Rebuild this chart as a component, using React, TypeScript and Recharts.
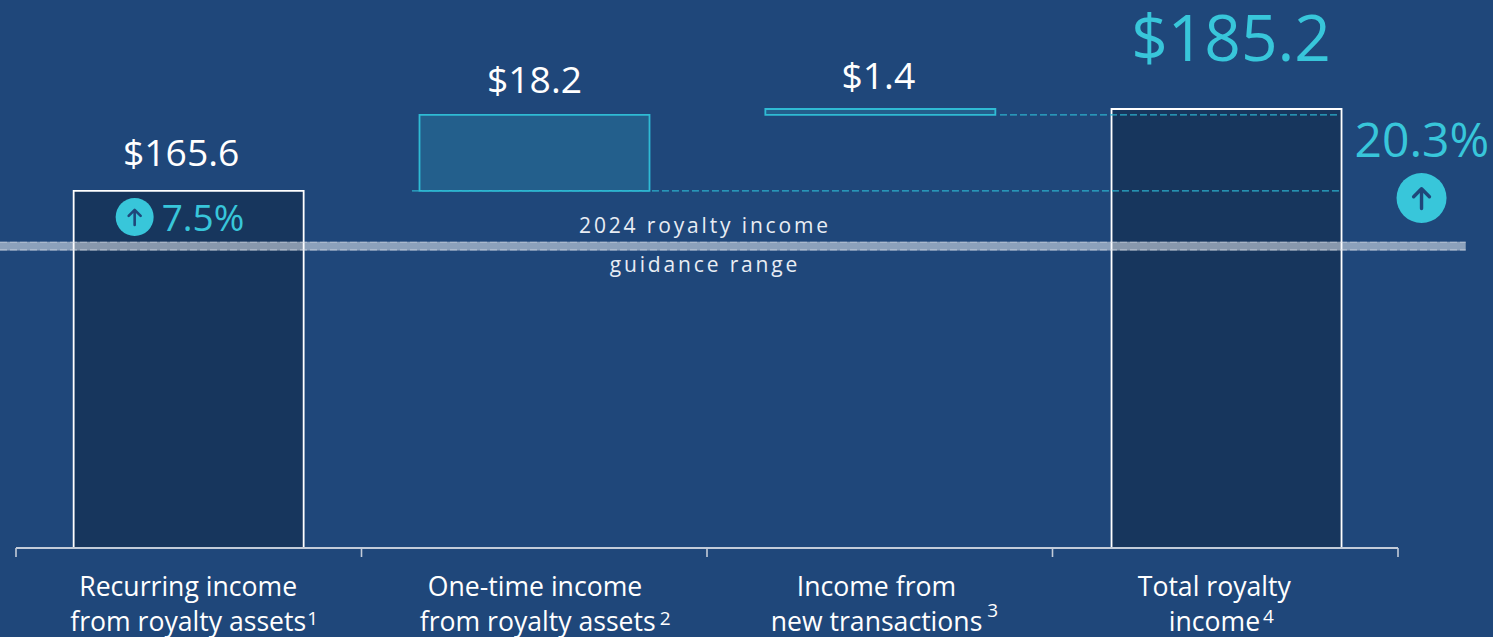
import React from "react";
import { BarChart, Bar, XAxis, YAxis, Cell, LabelList, ReferenceArea, ReferenceLine } from "recharts";

// Royalty income bridge, in $ millions
const categories = ["Recurring income", "One-time income", "Income from", "Total royalty"];
const secondLines = ["from royalty assets", "from royalty assets", "new transactions", "income"];
const footnotes = ["1", "2", "3", "4"];
const amounts = [165.6, 18.2, 1.4, 185.2];
const growthPct: (number | null)[] = [7.5, null, null, 20.3];
const AXIS_FLOOR = 80.2;
const barStarts = [AXIS_FLOOR, 165.6, 183.8, AXIS_FLOOR];
const barSlots = [0.4995, 1.5005, 2.5015, 3.5035];
const guidanceLow = 151.35;
const guidanceHigh = 153.46;
const connectorLevels = [183.8, 165.6];

const BG = "#1F477A";
const TEAL = "#38C6DA";
const FONT = "'Open Sans', sans-serif";

const barFills = ["#17365D", "#235F8C", "#235F8C", "#17365D"];
const barStrokes = ["#FFFFFF", "#2FBBD4", "#2FBBD4", "#FFFFFF"];

const rows = categories.map((name, i) => ({
  name,
  slot: barSlots[i],
  range: [barStarts[i], barStarts[i] + (i === 0 || i === 3 ? amounts[i] - AXIS_FLOOR : amounts[i])],
  amount: amounts[i],
  growth: growthPct[i],
}));

// Horizontal layout of the two-line category captions, relative to each slot centre
const captionStyle = [
  { first: -109.5, second: -118.5, noteDx: 1, noteY: 625 },
  { first: -106.5, second: -114.5, noteDx: 4, noteY: 625 },
  { first: -83, second: -109, noteDx: 5, noteY: 617 },
  { first: -87.5, second: -56.5, noteDx: 3, noteY: 623 },
];

// Value label placement relative to the top-centre of each bar
const valueStyle = [
  { dx: -7.5, dy: -25, size: 37.3, fill: "#FFFFFF" },
  { dx: 0, dy: -22, size: 37.3, fill: "#FFFFFF" },
  { dx: -2, dy: -20, size: 37.3, fill: "#FFFFFF" },
  { dx: 4.5, dy: -48, size: 64, fill: TEAL },
];

const growthStyle: Record<number, { cx: number; cy: number; r: number; tx: number; ty: number; size: number }> = {
  0: { cx: -54, cy: 26, r: 19, tx: -27, ty: 40, size: 37 },
  3: { cx: 195, cy: 89, r: 25, tx: 128, ty: 48, size: 48 },
};

function ValueLabel(props: any) {
  const { x, y, width, value, index } = props;
  const mid = x + width / 2;
  const s = valueStyle[index];
  const g = growthPct[index];
  const badge = growthStyle[index];
  return (
    <g>
      <text x={mid + s.dx} y={y + s.dy} textAnchor="middle" fontFamily={FONT} fontSize={s.size} fill={s.fill}>
        {`$${value.toFixed(1)}`}
      </text>
      {g != null && badge && (
        <g>
          <text x={mid + badge.tx} y={y + badge.ty} fontFamily={FONT} fontSize={badge.size} fill={TEAL}>
            {`${g.toFixed(1)}%`}
          </text>
          <circle cx={mid + badge.cx} cy={y + badge.cy} r={badge.r} fill={TEAL} />
          <g
            transform={`translate(${mid + badge.cx},${y + badge.cy}) scale(${badge.r / 19})`}
            stroke={BG}
            strokeWidth={2.6}
            strokeLinecap="round"
            strokeLinejoin="round"
            fill="none"
          >
            <path d="M0 8 V-7 M-6 -1 L0 -7 L6 -1" />
          </g>
        </g>
      )}
    </g>
  );
}

function AxisTick(props: any) {
  const { x, payload } = props;
  const v: number = payload.value;
  if (Number.isInteger(v)) {
    return <line x1={x} x2={x} y1={548} y2={557} stroke="#C3CCD9" strokeWidth={1.6} />;
  }
  const i = Math.floor(v);
  const c = captionStyle[i];
  const common = { fontFamily: FONT, fill: "#FFFFFF" };
  return (
    <g>
      <text x={x + c.first} y={596} fontSize={26.6} {...common}>
        {categories[i]}
      </text>
      <text x={x + c.second} y={630.5} fontSize={26.6} {...common}>
        {secondLines[i]}
        <tspan dx={c.noteDx} y={c.noteY} fontSize={19}>
          {footnotes[i]}
        </tspan>
      </text>
    </g>
  );
}

function GuidanceBand(props: any) {
  const { x, y, width, height } = props;
  const edge = { stroke: "#D5DDE8", strokeOpacity: 0.55, strokeWidth: 1.1, strokeDasharray: "7 3" };
  return (
    <g>
      <rect x={x} y={y} width={width} height={height} fill="#FFFFFF" fillOpacity={0.49} />
      <line x1={x} x2={x + width} y1={y + 0.6} y2={y + 0.6} {...edge} />
      <line x1={x} x2={x + width} y1={y + height - 0.6} y2={y + height - 0.6} {...edge} />
      <text x={705} y={233} textAnchor="middle" fontFamily={FONT} fontSize={21} letterSpacing={2.85} fill="#E8EDF4">
        2024 royalty income
      </text>
      <text x={705} y={272} textAnchor="middle" fontFamily={FONT} fontSize={21} letterSpacing={2.85} fill="#E8EDF4">
        guidance range
      </text>
    </g>
  );
}

export default function App() {
  return (
    <div style={{ position: "fixed", left: 0, top: 0, width: 1493, height: 637, background: BG, overflow: "hidden" }}>
      <BarChart
        width={1493}
        height={637}
        data={rows}
        margin={{ top: 0, right: 95, bottom: 0, left: 16 }}
        barSize={230}
      >
        <YAxis hide type="number" domain={[AXIS_FLOOR, 211.27]} allowDataOverflow />
        <XAxis
          dataKey="slot"
          type="number"
          domain={[0, 4]}
          ticks={[0, 0.5, 1, 1.5, 2, 2.5, 3, 3.5, 4]}
          interval={0}
          height={89}
          tickLine={false}
          axisLine={{ stroke: "#C3CCD9", strokeWidth: 2 }}
          tick={<AxisTick />}
        />
        <Bar dataKey="range" isAnimationActive={false} strokeWidth={1.8}>
          {rows.map((_, i) => (
            <Cell key={i} fill={barFills[i]} stroke={barStrokes[i]} />
          ))}
          <LabelList dataKey="amount" content={<ValueLabel />} />
        </Bar>
        {connectorLevels.map((level, i) => (
          <ReferenceLine
            key={level}
            segment={[
              { x: i === 0 ? 2.848 : 1.146, y: level },
              { x: 3.832, y: level },
            ]}
            stroke="#2DB0CC"
            strokeWidth={1.2}
            strokeDasharray="7 3"
            zIndex={600}
          />
        ))}
        <ReferenceArea
          x1={-0.0463}
          x2={4.196}
          y1={guidanceLow}
          y2={guidanceHigh}
          ifOverflow="visible"
          shape={<GuidanceBand />}
          zIndex={600}
        />
      </BarChart>
    </div>
  );
}
